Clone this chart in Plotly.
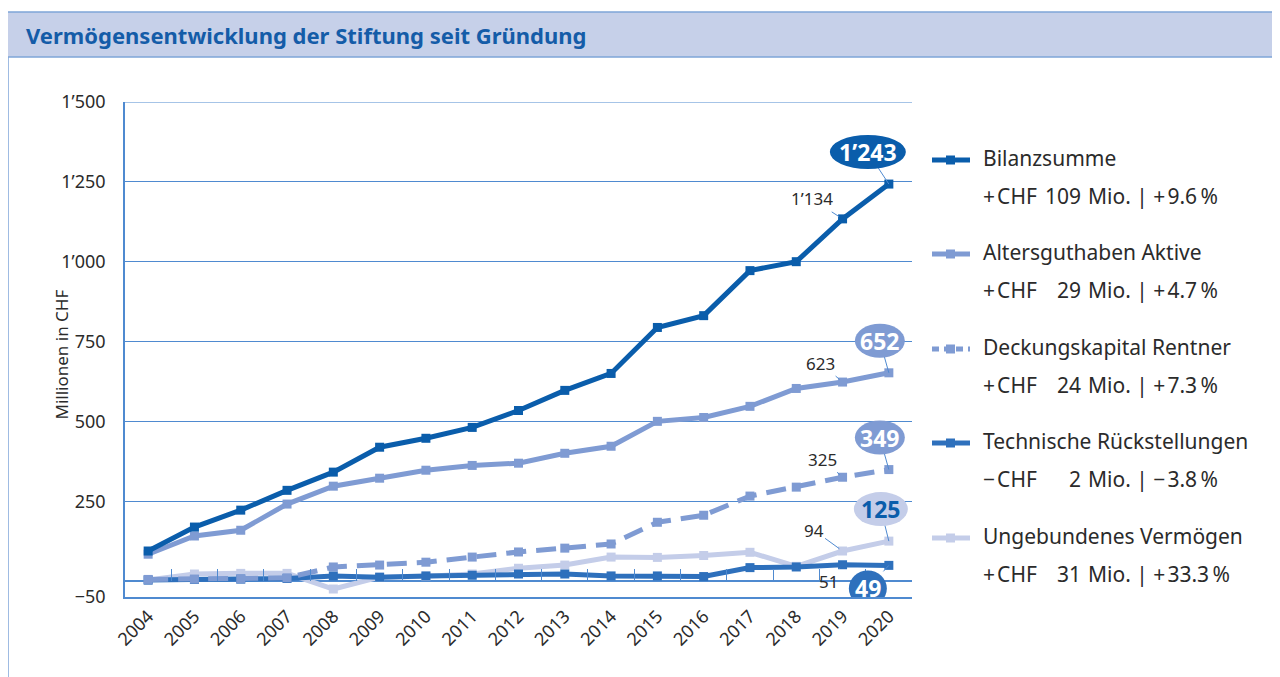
import plotly.graph_objects as go

years = list(range(2004, 2021))

bilanzsumme = [94, 169, 222, 284, 341, 419, 447, 481, 534, 597, 650, 794, 831, 972, 1000, 1134, 1243]
altersguthaben = [84, 141, 159, 241, 297, 322, 347, 362, 369, 400, 422, 500, 512, 547, 603, 623, 652]
deckungskapital = [5, 6, 7, 10, 44, 50, 59, 75, 91, 103, 116, 184, 206, 266, 294, 325, 349]
technische = [3, 5, 6, 8, 16, 12, 16, 18, 22, 22, 16, 16, 14, 42, 44, 51, 49]
ungebunden = [3, 22, 24, 24, -25, 12, 15, 22, 40, 50, 75, 74, 80, 90, 46, 94, 125]

series_names = ["Bilanzsumme", "Altersguthaben Aktive", "Deckungskapital Rentner",
                "Technische Rückstellungen", "Ungebundenes Vermögen"]
change_abs = [109, 29, 24, -2, 31]
change_pct = [9.6, 4.7, 7.3, -3.8, 33.3]

y_tickvals = [-50, 250, 500, 750, 1000, 1250, 1500]
y_ticktext = ["−50", "250", "500", "750", "1’000", "1’250", "1’500"]

C_DARK = "#0a5dab"
C_MID = "#2e70bc"
C_ALT = "#7f9bd3"
C_LIGHT = "#c4cde9"
C_GRID = "#4f8ad0"
C_TEXT = "#2b2b2b"
FONT = "Noto Sans"

series_vals = [bilanzsumme, altersguthaben, deckungskapital, technische, ungebunden]
series_colors = [C_DARK, C_ALT, C_ALT, C_MID, C_LIGHT]
series_dash = ["solid", "solid", "20px,10px", "solid", "solid"]

# geometry in reference pixels; the page body adds an 8px offset
OFF = 8
W, H = 1280 - OFF, 677 - OFF
L, R, T, B = 125, 912, 102, 597
def px(xp):
    return (xp - L) / (R - L)
def py(yp):
    return (B - yp) / (B - T)

fig = go.Figure()

draw_order = [4, 3, 2, 1, 0]
for i in draw_order:
    fig.add_trace(go.Scatter(
        x=years, y=series_vals[i], mode="lines+markers", name=series_names[i],
        line=dict(color=series_colors[i], width=5, dash=series_dash[i]),
        marker=dict(symbol="square", size=9, color=series_colors[i]),
        showlegend=False, hoverinfo="x+y"))

fig.add_trace(go.Scatter(x=[years[0]], y=[None], xaxis="x2", showlegend=False, hoverinfo="skip"))

boundaries = [y - 0.5 for y in years] + [years[-1] + 0.5]
yr = [y_tickvals[0], y_tickvals[-1]]

fig.update_layout(
    width=W, height=H,
    margin=dict(l=L - OFF, r=W - (R - OFF), t=T - OFF, b=H - (B - OFF)),
    paper_bgcolor="white", plot_bgcolor="white",
    font=dict(family=FONT, color=C_TEXT),
    xaxis=dict(range=[years[0] - 0.5, years[-1] + 0.5], tickvals=years,
               ticktext=[str(y) for y in years], tickangle=-45,
               showgrid=False, zeroline=False, showline=True, linecolor=C_GRID, linewidth=1.5,
               ticks="", tickfont=dict(size=18, color=C_TEXT, family=FONT)),
    xaxis2=dict(overlaying="x", anchor="free", position=(0 - yr[0]) / (yr[1] - yr[0]),
                side="bottom", range=[years[0] - 0.5, years[-1] + 0.5], tickvals=boundaries,
                ticks="inside", ticklen=12, tickwidth=1, tickcolor=C_GRID,
                showticklabels=False, showgrid=False, zeroline=False, showline=False),
    yaxis=dict(range=yr, tickvals=y_tickvals, ticktext=y_ticktext,
               showgrid=True, gridcolor=C_GRID, gridwidth=1,
               zeroline=True, zerolinecolor=C_GRID, zerolinewidth=1.5,
               showline=True, linecolor=C_GRID, linewidth=1.5,
               ticks="", ticklabelstandoff=14,
               tickfont=dict(size=18, color=C_TEXT, family=FONT)),
)

shapes = []
annotations = []

# top gridline (plotly drops the grid line at the range edge)
shapes.append(dict(type="line", xref="paper", yref="y", x0=0, x1=1,
                   y0=y_tickvals[-1], y1=y_tickvals[-1],
                   line=dict(color=C_GRID, width=1), layer="below"))

# title bar
path = (f"M {px(7)},{py(12)} L {px(1273)},{py(12)} L {px(1280)},{py(30)} "
        f"L {px(1280)},{py(57)} L {px(7)},{py(57)} Z")
shapes.append(dict(type="path", xref="paper", yref="paper", path=path,
                   fillcolor="#c6d0e9", line=dict(color="#7fa5d8", width=1.5), layer="below"))
shapes.append(dict(type="line", xref="paper", yref="paper", x0=px(8), x1=px(8),
                   y0=py(57), y1=py(677), line=dict(color="#7fa5d8", width=1.5)))
annotations.append(dict(xref="paper", yref="paper", x=px(24), y=py(35), xanchor="left",
                        yanchor="middle", showarrow=False,
                        text="<b>Vermögensentwicklung der Stiftung seit Gründung</b>",
                        font=dict(family=FONT, size=22, color="#145ca8")))

annotations.append(dict(xref="paper", yref="paper", x=px(47), y=py(355), showarrow=False,
                        text="Millionen in CHF", textangle=-90,
                        font=dict(family=FONT, size=17, color=C_TEXT)))

def fmt(v):
    return f"{v:,}".replace(",", "’")

last = years[-1]
bubble_spec = [
    (0, -21, 32, 76, 34, C_DARK, "white"),
    (1, -9, 32, 50, 34, C_ALT, "white"),
    (2, -9, 32, 50, 34, C_ALT, "white"),
    (4, -8, 32, 54, 34, C_LIGHT, C_DARK),
    (3, -21, -23, 38, 36, C_MID, "white"),
]
for idx, dx, dy, w, h, fill, tc in bubble_spec:
    v = series_vals[idx][-1]
    ey = dy - (h / 2 - 1) * (1 if dy > 0 else -1)
    shapes.append(dict(type="line", xref="x", yref="y", xsizemode="pixel", ysizemode="pixel",
                       xanchor=last, yanchor=v, x0=0, y0=0,
                       x1=dx * (ey / dy), y1=ey, line=dict(color=C_GRID, width=1)))
    shapes.append(dict(type="circle", xref="x", yref="y", xsizemode="pixel", ysizemode="pixel",
                       xanchor=last, yanchor=v, x0=dx - w / 2, x1=dx + w / 2,
                       y0=dy - h / 2, y1=dy + h / 2, fillcolor=fill, line=dict(width=0)))
    annotations.append(dict(x=last, y=v, xref="x", yref="y", showarrow=False,
                            xshift=dx, yshift=dy, text=f"<b>{fmt(v)}</b>",
                            font=dict(family=FONT, size=23, color=tc)))

prev = years[-2]
label_spec = [(0, -31, -20), (1, -22, -19), (2, -20, -18), (4, -29, -21), (3, -14, 17)]
for idx, ax, ay in label_spec:
    v = series_vals[idx][-2]
    annotations.append(dict(x=prev, y=v, xref="x", yref="y", showarrow=True,
                            ax=ax, ay=ay, arrowhead=0, arrowwidth=1, arrowcolor=C_GRID,
                            standoff=4, text=fmt(v),
                            font=dict(family=FONT, size=17, color=C_TEXT)))

leg_y = [158, 252, 347, 441, 536]
for i, name in enumerate(series_names):
    y1 = leg_y[i]
    ys = y1 + 2
    col = series_colors[i]
    dash = "7px,5px" if i == 2 else "solid"
    shapes.append(dict(type="line", xref="paper", yref="paper", x0=px(932), x1=px(970),
                       y0=py(ys), y1=py(ys), line=dict(color=col, width=5, dash=dash)))
    shapes.append(dict(type="rect", xref="paper", yref="paper", x0=px(946), x1=px(955),
                       y0=py(ys - 4.5), y1=py(ys + 4.5), fillcolor=col, line=dict(width=0)))
    annotations.append(dict(xref="paper", yref="paper", x=px(981), y=py(y1), xanchor="left",
                            yanchor="middle", showarrow=False, text=name,
                            font=dict(family=FONT, size=21, color=C_TEXT)))
    y2 = y1 + 38
    sign = "+" if change_abs[i] >= 0 else "−"
    psign = "+" if change_pct[i] >= 0 else "−"
    annotations.append(dict(xref="paper", yref="paper", x=px(981), y=py(y2), xanchor="left",
                            yanchor="middle", showarrow=False, text=f"{sign}\u200aCHF",
                            font=dict(family=FONT, size=21, color=C_TEXT)))
    annotations.append(dict(xref="paper", yref="paper", x=px(1083), y=py(y2), xanchor="right",
                            yanchor="middle", showarrow=False, text=f"{abs(change_abs[i])}",
                            font=dict(family=FONT, size=21, color=C_TEXT)))
    annotations.append(dict(xref="paper", yref="paper", x=px(1086), y=py(y2), xanchor="left",
                            yanchor="middle", showarrow=False,
                            text=f"Mio. | {psign}\u200a{abs(change_pct[i]):.1f}\u2009%",
                            font=dict(family=FONT, size=21, color=C_TEXT)))

fig.update_layout(shapes=shapes, annotations=annotations)
fig.write_html("out.html")
